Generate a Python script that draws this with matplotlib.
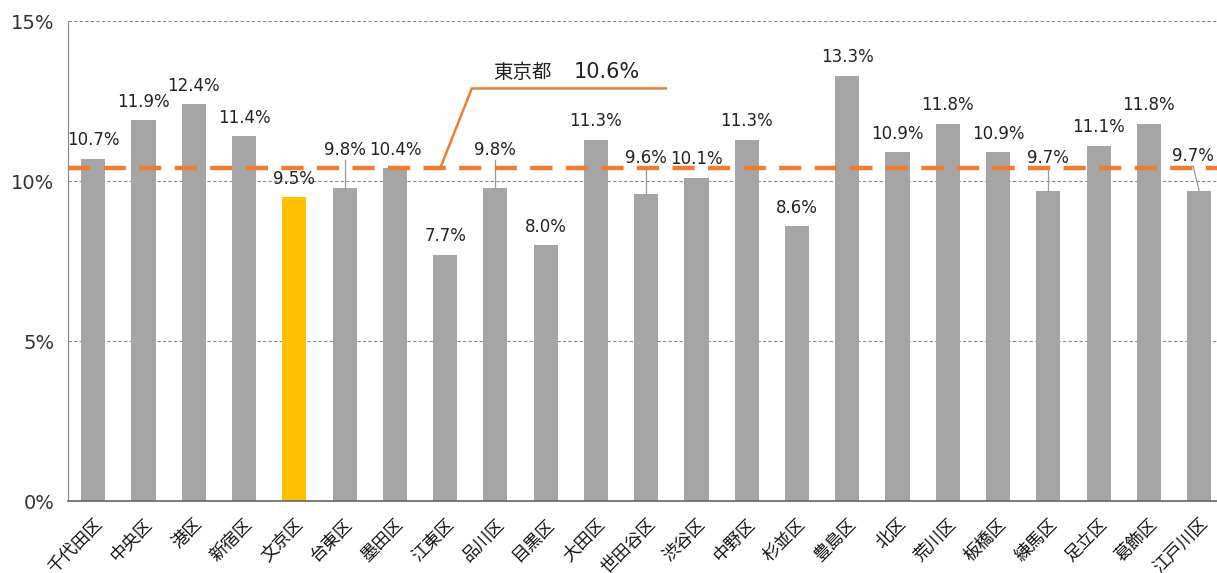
import matplotlib.pyplot as plt
import numpy as np

plt.rcParams['font.family'] = ['Noto Sans CJK JP', 'DejaVu Sans']
num_font = ['DejaVu Sans', 'Noto Sans CJK JP']

wards = ['千代田区', '中央区', '港区', '新宿区', '文京区', '台東区', '墨田区', '江東区',
         '品川区', '目黒区', '大田区', '世田谷区', '渋谷区', '中野区', '杉並区', '豊島区',
         '北区', '荒川区', '板橋区', '練馬区', '足立区', '葛飾区', '江戸川区']
values = [10.7, 11.9, 12.4, 11.4, 9.5, 9.8, 10.4, 7.7, 9.8, 8.0, 11.3, 9.6, 10.1,
          11.3, 8.6, 13.3, 10.9, 11.8, 10.9, 9.7, 11.1, 11.8, 9.7]
tokyo_name = '東京都'
tokyo_value = '10.6%'
tokyo_line = 10.4  # where the dashed line sits in the picture

# labels lifted off crowded bars, with leader lines
lifted = {'台東区': (0, 10.97), '品川区': (0, 10.97), '世田谷区': (0, 10.72),
          '練馬区': (0, 10.72), '江戸川区': (-0.12, 10.78)}

fig = plt.figure(figsize=(12.17, 5.73), dpi=100)
ax = fig.add_axes([0.056, 0.125, 0.95, 0.838])

x = np.arange(len(wards))
colors = ['#FFC000' if w == '文京区' else '#A5A5A5' for w in wards]
ax.bar(x, values, width=0.48, color=colors, zorder=2)

for i, (w, v) in enumerate(zip(wards, values)):
    if w in lifted:
        dx, ly = lifted[w]
        ax.text(i + dx, ly, f'{v:.1f}%', ha='center', va='center', fontsize=12,
                family=num_font, color='#222222', zorder=4)
        ax.plot([i + dx, i], [ly - 0.3, v], color='#999999', lw=0.9, zorder=3)
    else:
        ax.text(i, v + 0.58, f'{v:.1f}%', ha='center', va='center', fontsize=12,
                family=num_font, color='#222222', zorder=4)

ax.axhline(tokyo_line, color='#ED7D31', lw=3.2, ls=(0, (5, 3)), zorder=3)
ax.plot([6.9, 7.53, 11.39], [tokyo_line, 12.9, 12.9], color='#ED7D31', lw=1.8, zorder=3)
ax.text(8.53, 13.4, tokyo_name, ha='center', va='center', fontsize=14, color='#222222')
ax.text(10.22, 13.4, tokyo_value, ha='center', va='center', fontsize=15,
        family=num_font, color='#222222')

ax.set_xlim(-0.5, len(wards) - 0.5)
ax.set_ylim(0, 15)
ax.set_yticks([0, 5, 10, 15])
ax.set_yticklabels(['0%', '5%', '10%', '15%'], fontsize=14, color='#333333',
                   family=num_font)
ax.set_xticks(x)
ax.set_xticklabels(wards, rotation=45, ha='right', rotation_mode='anchor',
                   fontsize=12.5, color='#111111')
ax.tick_params(axis='y', length=0, pad=10)
ax.tick_params(axis='x', length=0, pad=10)

ax.grid(axis='y', color='#888888', ls=(0, (3, 2)), lw=0.8, zorder=0)
ax.spines['top'].set_visible(False)
ax.spines['right'].set_visible(False)
ax.spines['left'].set_color('#888888')
ax.spines['bottom'].set_color('#666666')
ax.spines['bottom'].set_linewidth(1.2)

fig.savefig('out.png', dpi=100)
